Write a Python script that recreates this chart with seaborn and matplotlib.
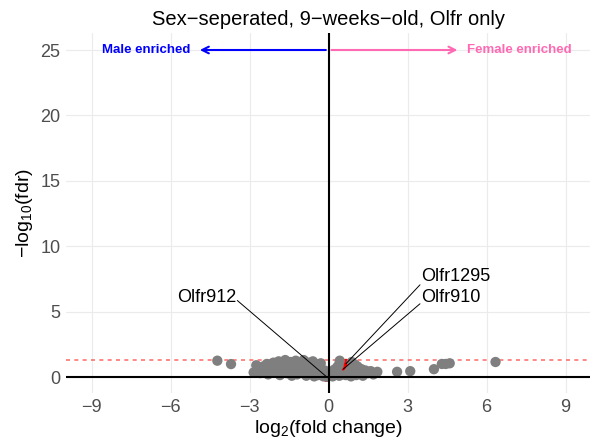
import matplotlib
matplotlib.use("Agg")
import matplotlib.pyplot as plt
import seaborn as sns
import pandas as pd

# ---- data ----
log2fc = [-4.23, -3.71,
          -2.85, -2.75, -2.70, -2.60, -2.50, -2.45, -2.35, -2.30, -2.20, -2.10, -2.05,
          -1.95, -1.90, -1.85, -1.80, -1.70, -1.65, -1.60, -1.50, -1.45, -1.40, -1.35,
          -1.30, -1.25, -1.20, -1.10, -1.05, -1.00, -0.95, -0.90, -0.85, -0.80, -0.75,
          -0.70, -0.65, -0.60, -0.55, -0.50, -0.45, -0.40, -0.35, -0.30, -0.25, -0.20,
          -0.15, -0.10, -0.05,
          0.05, 0.10, 0.15, 0.20, 0.25, 0.30, 0.32, 0.40, 0.38, 0.45, 0.42, 0.82, 0.65,
          0.88, 0.75, 0.95, 0.85, 1.00, 0.95, 1.00, 1.05, 1.10, 1.20, 1.25, 1.30, 1.40,
          1.50, 1.60, 1.70, 1.85,
          2.60, 3.10, 4.00, 4.30, 4.45, 4.60, 6.34]
neglog10_fdr = [1.25, 0.99,
                0.35, 0.90, 0.55, 0.30, 0.80, 0.45, 1.00, 0.20, 0.65, 1.10, 0.35,
                0.85, 1.20, 0.15, 0.55, 1.00, 1.30, 0.30, 0.75, 1.15, 0.10, 0.45,
                0.90, 1.25, 0.20, 0.60, 1.05, 0.30, 1.30, 0.80, 0.10, 0.50, 1.10,
                0.25, 0.70, 1.20, 0.05, 0.40, 0.95, 0.15, 0.60, 1.05, 0.30, 0.05,
                0.50, 0.20, 0.02,
                0.10, 0.35, 0.05, 0.55, 0.20, 0.40, 0.75, 0.10, 0.90, 0.15, 1.25, 0.50, 0.15,
                1.15, 0.30, 0.80, 0.05, 0.95, 0.35, 0.60, 0.15, 0.80, 0.40, 0.60, 0.10, 0.50,
                0.30, 0.45, 0.20, 0.40,
                0.40, 0.45, 0.60, 1.00, 1.00, 1.05, 1.15]

genes = ["Olfr912", "Olfr1295", "Olfr910"]
gene_log2fc = [-0.08, 0.65, 0.55]
gene_neglog10 = [0.02, 1.00, 0.60]
label_x = [-3.47, 3.47, 3.47]
label_y = [6.1, 7.7, 6.1]
line_start_y = [5.85, 7.05, 5.6]

fdr_cut = 1.301
title = "Sex\u2212seperated, 9\u2212weeks\u2212old, Olfr only"

df = pd.DataFrame({"log2fc": log2fc, "nlf": neglog10_fdr})
dg = pd.DataFrame({"log2fc": gene_log2fc, "nlf": gene_neglog10, "gene": genes})

sns.set_theme(style="whitegrid")
plt.rcParams["font.family"] = ["Liberation Sans", "DejaVu Sans"]
plt.rcParams["mathtext.fontset"] = "custom"
plt.rcParams["mathtext.rm"] = "Liberation Sans"
plt.rcParams["mathtext.it"] = "Liberation Sans:italic"
plt.rcParams["mathtext.bf"] = "Liberation Sans:bold"

fig = plt.figure(figsize=(5.97, 4.44), dpi=100)
ax = fig.add_axes([66/597, 1-393/444, (590-66)/597, (393-33)/444])

ax.set_xlim(-9.98, 9.93)
ax.set_ylim(-1.22, 26.3)
ax.set_xticks([-9, -6, -3, 0, 3, 6, 9])
ax.set_xticklabels(["\u22129", "\u22126", "\u22123", "0", "3", "6", "9"])
ax.set_yticks([0, 5, 10, 15, 20, 25])
ax.grid(True, color="#EBEBEB", lw=0.8)
for s in ax.spines.values():
    s.set_visible(False)
ax.tick_params(length=0, labelsize=13, labelcolor="#4D4D4D", pad=4)

# highlighted genes drawn first, partly hidden by the grey cloud (as in the reference)
sns.scatterplot(data=dg, x="log2fc", y="nlf", ax=ax, color="red",
                s=55, edgecolor="none", linewidth=0, zorder=3)
sns.scatterplot(data=df, x="log2fc", y="nlf", ax=ax, color="#7F7F7F",
                s=55, edgecolor="none", linewidth=0, zorder=4)

ax.axhline(fdr_cut, color="#FF5A5A", alpha=0.85, lw=1.2, dashes=(2.4, 2.6), zorder=2)
ax.axhline(0, color="black", lw=1.5, zorder=5)
ax.axvline(0, color="black", lw=1.5, zorder=5)

# label lines and text
for g, gx, gy, lx, ly, sy in zip(genes, gene_log2fc, gene_neglog10, label_x, label_y, line_start_y):
    ax.plot([lx, gx], [sy, gy], color="black", lw=0.7, zorder=6)
    ha = "right" if lx < 0 else "left"
    ax.text(lx + (-0.05 if lx < 0 else 0.05), ly, g, ha=ha, va="center", fontsize=13, color="black", zorder=7)

# direction arrows
ax.annotate("", xy=(-5.0, 25), xytext=(0, 25),
            arrowprops=dict(arrowstyle="->", color="blue", lw=1.5, mutation_scale=12), zorder=6)
ax.annotate("", xy=(5.0, 25), xytext=(0, 25),
            arrowprops=dict(arrowstyle="->", color="#FF69B4", lw=1.5, mutation_scale=12), zorder=6)
ax.text(-5.27, 25, "Male enriched", ha="right", va="center", fontsize=9.5,
        fontweight="bold", color="blue")
ax.text(5.25, 25, "Female enriched", ha="left", va="center", fontsize=9.5,
        fontweight="bold", color="#FF69B4")

ax.set_xlabel("log$_{2}$(fold change)", fontsize=14, color="black", labelpad=2)
ax.set_ylabel("\u2212log$_{10}$(fdr)", fontsize=14, color="black", labelpad=4)
ax.set_title(title, fontsize=14.5, color="black", pad=6)

fig.savefig("out.png", dpi=100)
